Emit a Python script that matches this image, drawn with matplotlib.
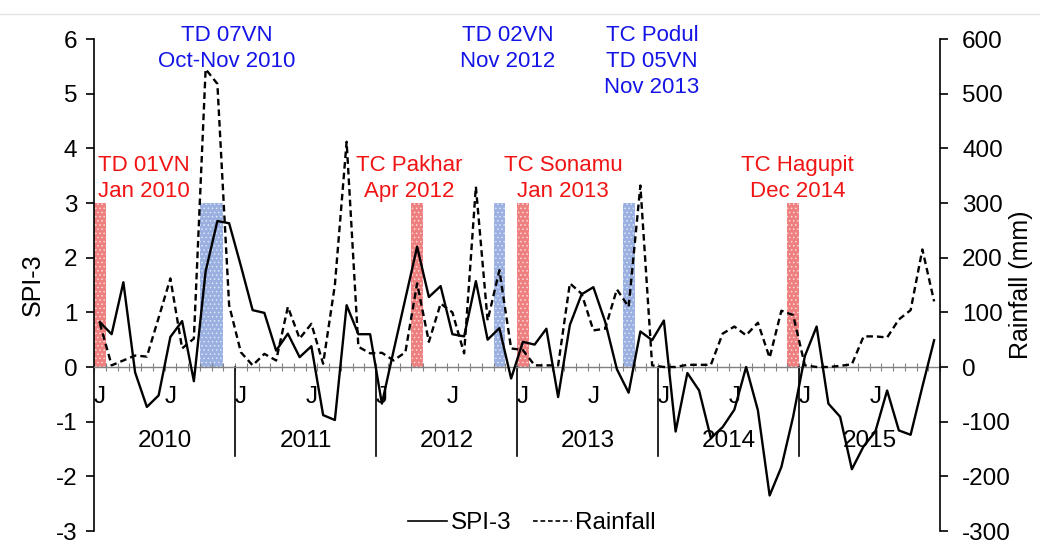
import matplotlib
matplotlib.use('Agg')
import matplotlib.pyplot as plt
from matplotlib.lines import Line2D
import numpy as np

plt.rcParams['font.family'] = ['Liberation Sans', 'DejaVu Sans']
plt.rcParams['axes.unicode_minus'] = False
plt.rcParams['hatch.linewidth'] = 0.6

# ---------------- data ----------------
years = ['2010', '2011', '2012', '2013', '2014', '2015']
month_letters = ['J', '', '', '', '', '', 'J', '', '', '', '', '']

spi3 = [0.82, 0.60, 1.55, -0.10, -0.73, -0.52, 0.55, 0.84, -0.26, 1.75, 2.67, 2.63,
        1.85, 1.04, 0.99, 0.30, 0.61, 0.18, 0.38, -0.88, -0.97, 1.13, 0.60, 0.60,
        -0.67, 0.30, 1.25, 2.20, 1.28, 1.48, 0.60, 0.56, 1.57, 0.50, 0.71, -0.21,
        0.46, 0.41, 0.70, -0.55, 0.77, 1.33, 1.46, 0.83, -0.04, -0.47, 0.65, 0.49,
        0.85, -1.18, -0.11, -0.43, -1.30, -1.10, -0.78, 0.00, -0.79, -2.35, -1.83, -0.91,
        0.20, 0.74, -0.67, -0.91, -1.87, -1.45, -1.18, -0.43, -1.16, -1.24, -0.36, 0.49]

rainfall = [80, 3, 12, 21, 19, 90, 162, 34, 52, 545, 518, 113,
            27, 3, 24, 12, 110, 52, 79, 6, 150, 412, 37, 25,
            26, 12, 27, 153, 46, 116, 100, 25, 330, 85, 177, 34,
            31, 3, 3, 3, 153, 134, 67, 70, 142, 110, 332, 3,
            0, 0, 4, 4, 4, 61, 74, 58, 81, 17, 103, 95,
            3, 0, 0, 2, 5, 56, 56, 54, 87, 104, 215, 120]

red_event_months = [0, 27, 36, 59]
blue_event_months = [9, 10, 34, 45]
event_bar_height = 3

# label lines, x (month index), first baseline (SPI units), colour
event_labels = [
    (['TD 01VN', 'Jan 2010'], 3.71, 3.59, 'red'),
    (['TD 07VN', 'Oct-Nov 2010'], 10.82, 5.96, 'blue'),
    (['TC Pakhar', 'Apr 2012'], 26.31, 3.59, 'red'),
    (['TD 02VN', 'Nov 2012'], 34.69, 5.96, 'blue'),
    (['TC Sonamu', 'Jan 2013'], 39.41, 3.59, 'red'),
    (['TC Podul', 'TD 05VN', 'Nov 2013'], 46.99, 5.96, 'blue'),
    (['TC Hagupit', 'Dec 2014'], 59.37, 3.59, 'red'),
]
text_colors = {'red': '#f01414', 'blue': '#1414e6'}
bar_colors = {'red': '#ee7f7f', 'blue': '#9ab0e0'}

# ---------------- figure ----------------
W, H = 1040, 544
fig = plt.figure(figsize=(W / 100, H / 100), dpi=100)
ax = fig.add_axes([94 / W, 1 - 531 / H, (940 - 94) / W, (531 - 39) / H])
ax2 = ax.twinx()

n = len(spi3)
x = np.arange(n)
dash = (0, (2.8, 1.7))

ax.bar(red_event_months, event_bar_height, width=1.0, color=bar_colors['red'],
       edgecolor='#fbd8d8', linewidth=0, hatch='....', zorder=1)
ax.bar(blue_event_months, event_bar_height, width=1.0, color=bar_colors['blue'],
       edgecolor='#dde6f6', linewidth=0, hatch='....', zorder=1)

ax.plot(x, spi3, color='black', lw=1.7, zorder=3)
ax2.plot(x, rainfall, color='black', lw=1.7, linestyle=dash, zorder=3)

ax.set_xlim(-0.5, n - 0.5)
ax.set_ylim(-3, 6)
ax2.set_ylim(-300, 600)
ax.set_yticks(np.arange(-3, 7, 1))
ax2.set_yticks(np.arange(-300, 700, 100))

for a in (ax, ax2):
    a.spines['top'].set_visible(False)
ax.spines['right'].set_visible(False)
ax2.spines['bottom'].set_visible(False)
ax2.spines['left'].set_visible(False)
ax.spines['left'].set_linewidth(1.2)
ax2.spines['right'].set_linewidth(1.2)

# category axis crossing at zero
ax.spines['bottom'].set_position(('data', 0))
ax.spines['bottom'].set_color('#808080')
ax.spines['bottom'].set_linewidth(1.0)
ax.set_xticks(np.arange(-0.5, n, 1))
ax.tick_params(axis='x', direction='inout', length=6, width=0.8, color='#808080',
               labelbottom=False)

ax.tick_params(axis='y', direction='out', length=6, width=1.2, labelsize=17.5, pad=6)
ax2.tick_params(axis='y', direction='out', length=6, width=1.2, labelsize=17.5, pad=10)
ax2.xaxis.set_visible(False)

ax.set_ylabel('SPI-3', fontsize=18)
ax.yaxis.set_label_coords((33 - 94) / 846, 0.5)
ax.yaxis.label.set_va('center')
ax2.set_ylabel('Rainfall (mm)', fontsize=18)
ax2.yaxis.set_label_coords((1021 - 94) / 846, 0.5)
ax2.yaxis.label.set_va('center')

# month letters and year labels
for i in range(n):
    letter = month_letters[i % 12]
    if letter:
        ax.text(i, -0.55, letter, ha='center', va='center', fontsize=17.5, zorder=2)
for k, yr in enumerate(years):
    ax.text(12 * k + 5.5, -1.36, yr, ha='center', va='center', fontsize=17.5, zorder=2)
    if k > 0:
        ax.plot([12 * k - 0.5, 12 * k - 0.5], [0, -1.63], color='black', lw=1.2,
                zorder=2, clip_on=False)

# event annotations
line_step = 26 / 54.67
for lines, xm, y0, c in event_labels:
    for j, t in enumerate(lines):
        ax.text(xm, y0 - j * line_step, t, ha='center', va='baseline', fontsize=16,
                color=text_colors[c], zorder=4, clip_on=False)

# legend
handles = [Line2D([], [], color='black', lw=1.2),
           Line2D([], [], color='black', lw=1.2, linestyle=dash)]
fig.legend(handles, ['SPI-3', 'Rainfall'], loc='center', bbox_to_anchor=(532 / W, 21 / H),
           ncol=2, frameon=False, handlelength=1.6, handletextpad=0.15,
           columnspacing=0.9, fontsize=17.5, borderaxespad=0, borderpad=0)

# faint chart border at the top
fig.add_artist(Line2D([0, 1], [1 - 14 / H, 1 - 14 / H], transform=fig.transFigure,
                      color='#e4e4e4', lw=1))

fig.savefig('out.png', dpi=100)
